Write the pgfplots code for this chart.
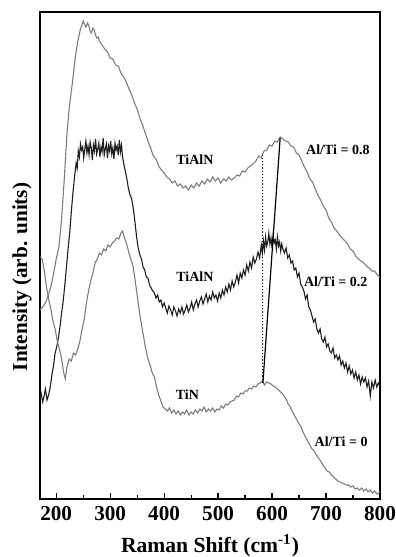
\documentclass[border=0pt]{standalone}
\usepackage{fontspec}
\setmainfont{Liberation Serif}
\usepackage{pgfplots}
\pgfplotsset{compat=1.18}
\definecolor{curvegray}{RGB}{125,125,125}
\definecolor{curvedark}{RGB}{30,30,30}
\pgfplotstableread{
x y
170 189
175 192
180 196
185 203
190 212
195 225
200 240
205 252
210 280
215 320
220 366
225 395
230 416
235 440
240 458
245 470
250 478
253 474
255 472
258 476
260 474
263 468
265 466
268 471
270 470
273 464
275 461
278 462
280 458
285 454
290 450
295 447
300 441
305 440
310 434
315 433
320 426
325 422
330 417
335 410
340 404
345 396
350 390
355 381
360 374
365 366
370 358
375 351
380 343
385 340
390 333
395 329
400 326
405 322
410 320
415 316
420 318
425 313
430 315
435 311
440 313
445 309
450 314
455 311
460 316
465 313
470 318
475 315
480 320
485 317
490 322
495 318
500 321
505 316
510 320
515 318
520 322
525 319
530 321
535 324
540 323
545 328
550 327
555 331
560 333
565 335
570 338
575 343
580 341
585 348
590 349
595 354
600 353
605 358
610 357
615 362
620 360
625 358
630 357
635 353
640 352
645 346
650 344
655 338
660 332
665 327
670 320
675 317
680 310
685 304
690 299
695 293
700 289
705 281
710 277
715 271
720 268
725 264
730 261
735 258
740 255
745 250
750 248
755 243
760 240
765 238
770 236
775 233
780 231
785 228
790 228
795 224
800 222
}\highdata
\pgfplotstableread{
x y
170 100
172 106
175 97
178 104
180 110
183 99
186 104
189 112
192 124
195 133
198 146
201 152
204 161
207 172
210 186
213 198
216 214
219 232
222 250
225 266
228 287
231 306
234 322
237 336
239 331
241 348
243 342
245 355
247 349
249 352
251 341
253 350
255 358
257 346
259 353
261 344
263 357
265 351
267 339
269 354
271 348
273 360
275 345
277 350
279 356
281 342
283 352
285 347
287 361
289 344
291 350
293 355
295 341
297 353
299 348
301 358
303 345
305 351
307 340
309 356
311 349
313 353
315 344
317 359
319 347
321 354
323 342
325 336
328 328
331 320
334 310
337 304
340 300
343 290
346 277
349 262
352 251
355 244
358 240
361 232
364 229
367 222
370 221
373 214
376 211
379 208
382 206
385 201
388 204
391 197
394 199
397 192
400 196
403 191
406 186
409 193
412 189
415 184
418 192
421 188
424 183
427 190
430 186
433 192
436 185
439 189
442 194
445 187
448 191
451 197
454 189
457 195
460 199
463 192
466 198
469 202
472 195
475 200
478 205
481 197
484 203
487 199
490 207
493 201
496 204
499 198
502 206
505 201
508 209
511 204
514 212
517 207
520 215
523 209
526 218
529 212
532 217
535 224
538 216
541 226
544 221
547 229
550 224
553 234
556 228
559 237
562 231
565 242
568 236
571 240
574 247
577 241
580 254
582 246
584 258
586 249
588 262
590 253
592 257
594 266
596 255
598 261
600 251
602 264
604 256
606 259
608 250
610 262
612 253
614 257
616 248
618 255
620 250
623 246
626 251
629 241
632 244
635 236
638 238
641 229
644 231
647 222
650 226
653 215
656 212
659 208
662 200
665 204
668 192
671 189
674 183
677 177
680 180
683 170
686 166
689 170
692 160
695 157
698 162
701 152
704 155
707 148
710 146
713 151
716 141
719 144
722 139
725 143
728 134
731 138
734 131
737 136
740 127
743 133
746 125
749 129
752 121
755 127
758 119
761 124
764 115
767 122
770 117
773 121
776 112
779 118
782 103
785 117
788 111
791 119
794 112
797 116
800 113
}\middata
\pgfplotstableread{
x y
170 242
174 240
178 228
182 212
186 200
190 190
194 178
198 170
202 158
206 150
210 140
214 126
217 120
220 132
224 140
228 138
232 146
236 144
240 150
244 158
248 170
252 180
256 196
260 208
264 218
268 226
272 236
276 240
280 246
284 244
288 250
292 248
296 254
300 252
304 256
308 258
312 261
316 260
320 266
323 268
326 262
330 256
334 248
338 240
342 234
346 220
350 204
354 188
358 174
362 162
366 150
370 140
374 134
378 126
382 122
386 112
390 104
394 98
398 92
402 90
406 88
410 91
414 86
418 89
422 85
426 88
430 84
434 87
438 85
442 89
446 84
450 87
454 85
458 89
462 86
466 90
470 88
474 92
478 87
482 90
486 88
490 91
494 87
498 90
502 89
506 93
510 91
514 95
518 94
522 97
526 98
530 99
534 103
538 102
542 106
546 105
550 108
554 108
558 111
562 110
566 113
570 112
574 115
578 116
582 118
586 114
590 117
594 116
598 115
602 113
606 112
610 110
614 108
618 106
622 103
626 100
630 95
634 92
638 87
642 83
646 79
650 75
654 72
658 66
662 62
666 58
670 54
674 50
678 48
682 44
686 41
690 38
694 34
698 31
702 28
706 27
710 24
714 22
718 20
722 18
726 17
730 16
734 15
738 14
742 14
746 12
750 13
754 10
758 11
762 9
766 11
770 8
774 10
778 7
782 9
786 6
790 8
794 5
800 7
}\lowdata
\begin{document}
\begin{tikzpicture}
\begin{axis}[
  scale only axis, width=170pt, height=243.5pt,
  xmin=170, xmax=800, ymin=0, ymax=487,
  axis line style={line width=0.8pt},
  ytick=\empty,
  xtick={200,300,...,800}, minor xtick={250,350,...,750},
  xtick pos=bottom, tick align=inside,
  major tick length=3pt, minor tick length=2pt,
  tick style={line width=0.6pt, black},
  /pgf/number format/assume math mode=true,
  xticklabel style={font=\fontsize{10.6}{12}\selectfont\bfseries},
  xlabel={Raman Shift (cm\textsuperscript{-1})},
  xlabel style={font=\fontsize{10.8}{12}\selectfont\bfseries},
  ylabel={Intensity (arb. units)},
  ylabel style={font=\fontsize{10.6}{12}\selectfont\bfseries, at={(axis description cs:-0.053,0.456)}, anchor=center, rotate=0},
  clip=true,
]
\addplot[curvegray, line width=0.55pt] table[x=x,y=y]{\highdata};
\addplot[curvedark, line width=0.55pt] table[x=x,y=y]{\middata};
\addplot[curvegray, line width=0.55pt] table[x=x,y=y]{\lowdata};
\addplot[black, line width=0.6pt, densely dotted] coordinates {(583,116) (583,346)};
\addplot[black, line width=0.6pt] coordinates {(583,116) (615,361)};
\node[font=\fontsize{7}{8}\selectfont\bfseries] at (axis cs:457,339) {TiAlN};
\node[font=\fontsize{7}{8}\selectfont\bfseries] at (axis cs:457,222) {TiAlN};
\node[font=\fontsize{7}{8}\selectfont\bfseries] at (axis cs:443,104) {TiN};
\node[font=\fontsize{7}{8}\selectfont\bfseries] at (axis cs:722,349) {Al/Ti = 0.8};
\node[font=\fontsize{7}{8}\selectfont\bfseries] at (axis cs:718,217) {Al/Ti = 0.2};
\node[font=\fontsize{7}{8}\selectfont\bfseries] at (axis cs:728,57) {Al/Ti = 0};
\coordinate (sw) at (rel axis cs:0,0);
\coordinate (ne) at (rel axis cs:1,1);
\end{axis}
\pgfresetboundingbox
\path[use as bounding box] ([xshift=-20pt,yshift=-29pt]sw) rectangle ([xshift=8pt,yshift=6pt]ne);
\end{tikzpicture}
\end{document}
